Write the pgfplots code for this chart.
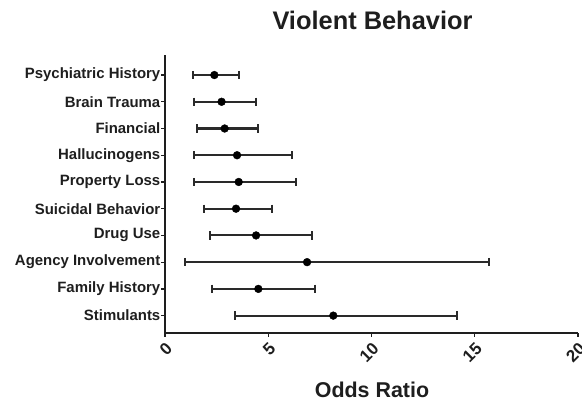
\documentclass[border=0pt]{standalone}
\usepackage{pgfplots}
\pgfplotsset{compat=1.18}
\usepackage{pgfplotstable}
\usepackage{fontspec}
\setmainfont{Liberation Sans}
\definecolor{ink}{HTML}{1E1E1E}
\definecolor{bar}{HTML}{2A2A2A}
\pgfplotstableread{
pos or lo hi
10 2.39 1.37 3.60
9 2.74 1.40 4.39
8 2.89 1.53 4.50
7 3.49 1.40 6.13
6 3.57 1.39 6.34
5 3.44 1.90 5.20
4 4.41 2.18 7.10
3 6.88 0.97 15.69
2 4.52 2.29 7.28
1 8.15 3.39 14.12
}\data
\begin{document}
\begin{tikzpicture}
\useasboundingbox (0,0) rectangle (582bp,403bp);
\begin{axis}[
  at={(165bp,70bp)}, anchor=south west,
  scale only axis, width=413bp, height=278bp,
  xmin=0, xmax=20, ymin=0.35, ymax=10.75,
  axis lines*=left,
  xtick={0,5,10,15,20},
  ytick={1,...,10},
  yticklabels={Stimulants,Family History,Agency Involvement,Drug Use,Suicidal Behavior,Property Loss,Hallucinogens,Financial,Brain Trauma,Psychiatric History},
  tick align=outside, major tick length=3.5bp,
  axis line style={line width=1.8bp, ink},
  tick style={line width=1.3bp, ink},
  x tick label style={rotate=45, anchor=north east, font=\fontsize{17}{17}\selectfont\bfseries, text=ink},
  y tick label style={font=\fontsize{15}{15}\selectfont\bfseries, inner xsep=1bp, text=ink},
  /pgf/number format/assume math mode=true,
  clip=false,
]
% CI lines
\addplot[only marks, mark=none, bar, forget plot,
  error bars/.cd, x dir=both, x explicit, error mark=none,
  error bar style={line width=2.1bp, bar, solid}]
  table[x=or, y=pos, x error plus expr=\thisrow{hi}-\thisrow{or}, x error minus expr=\thisrow{or}-\thisrow{lo}] {\data};
% caps
\addplot[only marks, mark=|, mark size=4.2bp, bar, mark options={solid, line width=1.9bp}, forget plot]
  table[x=lo, y=pos] {\data};
\addplot[only marks, mark=|, mark size=4.2bp, bar, mark options={solid, line width=1.9bp}, forget plot]
  table[x=hi, y=pos] {\data};
% point estimates
\addplot[only marks, mark=*, mark size=3.9bp, black, forget plot]
  table[x=or, y=pos] {\data};
\end{axis}
\node[anchor=base, font=\fontsize{25.5}{25.5}\selectfont\bfseries, text=ink] at (372.5bp,373bp) {Violent Behavior};
\node[anchor=base, font=\fontsize{21.5}{21.5}\selectfont\bfseries, text=ink] at (372bp,6bp) {Odds Ratio};
\end{tikzpicture}
\end{document}
